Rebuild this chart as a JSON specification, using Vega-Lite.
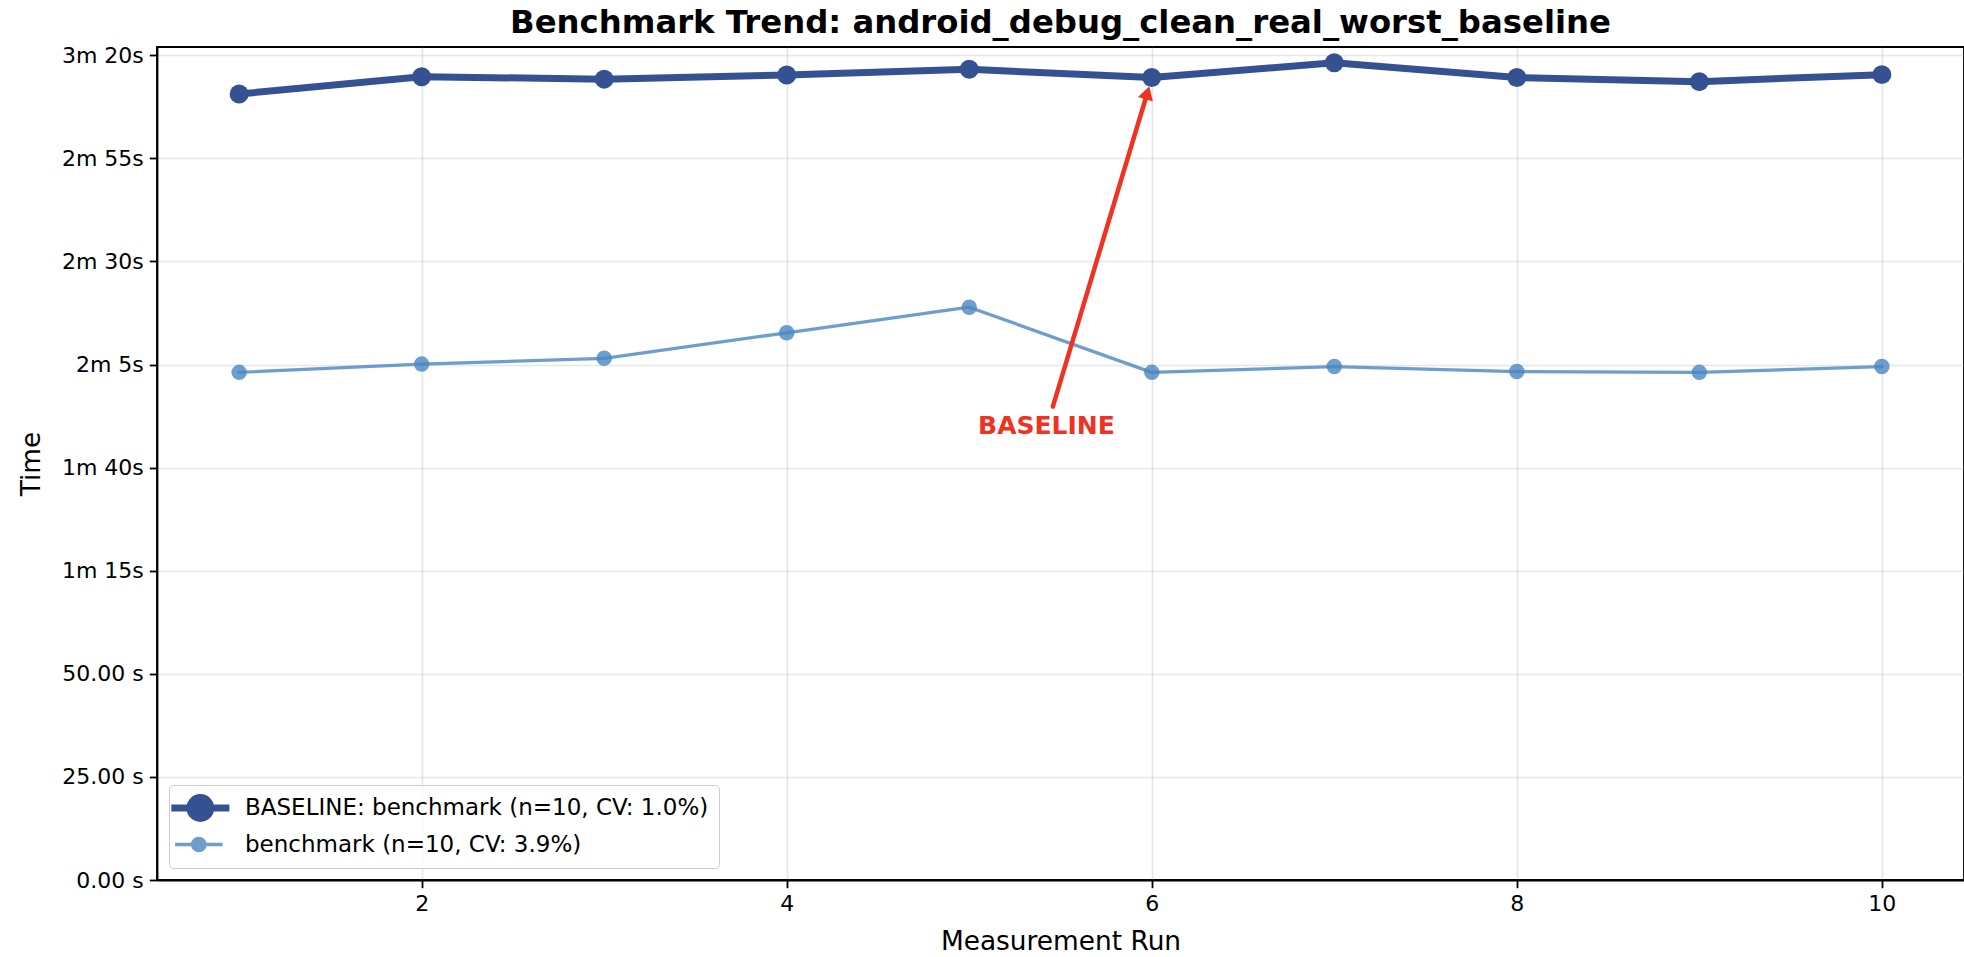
{
  "$schema": "https://vega.github.io/schema/vega-lite/v6.json",
  "autosize": {"type": "none"},
  "padding": {"left": 157, "top": 47, "right": 0, "bottom": 77},
  "width": 1807,
  "height": 833,
  "background": "white",
  "config": {
    "font": "DejaVu Sans",
    "view": {"stroke": "black", "strokeWidth": 1.8},
    "axis": {
      "labelFont": "DejaVu Sans", "labelFontSize": 22, "labelColor": "black",
      "titleFont": "DejaVu Sans", "titleFontSize": 26.4, "titleFontWeight": "normal", "titleColor": "black",
      "domainColor": "black", "domainWidth": 1.8, "tickColor": "black", "tickWidth": 1.8, "tickSize": 7.7,
      "labelPadding": 6, "gridColor": "#b0b0b0", "gridOpacity": 0.3, "gridWidth": 1.7
    }
  },
  "title": {
    "text": "Benchmark Trend: android_debug_clean_real_worst_baseline",
    "font": "DejaVu Sans", "fontSize": 32.3, "fontWeight": "bold", "color": "black",
    "anchor": "middle", "baseline": "bottom", "offset": -28, "frame": "group"
  },
  "datasets": {
    "runs": [
      {"run": 1, "seconds": 190.6, "series": "BASELINE: benchmark (n=10, CV: 1.0%)"},
      {"run": 2, "seconds": 194.8, "series": "BASELINE: benchmark (n=10, CV: 1.0%)"},
      {"run": 3, "seconds": 194.2, "series": "BASELINE: benchmark (n=10, CV: 1.0%)"},
      {"run": 4, "seconds": 195.2, "series": "BASELINE: benchmark (n=10, CV: 1.0%)"},
      {"run": 5, "seconds": 196.6, "series": "BASELINE: benchmark (n=10, CV: 1.0%)"},
      {"run": 6, "seconds": 194.6, "series": "BASELINE: benchmark (n=10, CV: 1.0%)"},
      {"run": 7, "seconds": 198.2, "series": "BASELINE: benchmark (n=10, CV: 1.0%)"},
      {"run": 8, "seconds": 194.6, "series": "BASELINE: benchmark (n=10, CV: 1.0%)"},
      {"run": 9, "seconds": 193.6, "series": "BASELINE: benchmark (n=10, CV: 1.0%)"},
      {"run": 10, "seconds": 195.3, "series": "BASELINE: benchmark (n=10, CV: 1.0%)"},
      {"run": 1, "seconds": 123.1, "series": "benchmark (n=10, CV: 3.9%)"},
      {"run": 2, "seconds": 125.1, "series": "benchmark (n=10, CV: 3.9%)"},
      {"run": 3, "seconds": 126.5, "series": "benchmark (n=10, CV: 3.9%)"},
      {"run": 4, "seconds": 132.7, "series": "benchmark (n=10, CV: 3.9%)"},
      {"run": 5, "seconds": 138.9, "series": "benchmark (n=10, CV: 3.9%)"},
      {"run": 6, "seconds": 123.1, "series": "benchmark (n=10, CV: 3.9%)"},
      {"run": 7, "seconds": 124.5, "series": "benchmark (n=10, CV: 3.9%)"},
      {"run": 8, "seconds": 123.3, "series": "benchmark (n=10, CV: 3.9%)"},
      {"run": 9, "seconds": 123.1, "series": "benchmark (n=10, CV: 3.9%)"},
      {"run": 10, "seconds": 124.5, "series": "benchmark (n=10, CV: 3.9%)"}
    ],
    "note": [
      {"label": "BASELINE", "tx": 5.423, "ty": 110.1, "x0": 5.458, "y0": 114.8, "x1": 5.976, "y1": 190.9}
    ]
  },
  "layer": [
    {
      "data": {"name": "runs"},
      "mark": {"type": "line", "strokeCap": "round", "strokeJoin": "round"},
      "encoding": {
        "x": {"field": "run", "type": "quantitative",
              "scale": {"domain": [0.55, 10.45], "nice": false, "zero": false},
              "axis": {"values": [2, 4, 6, 8, 10], "format": "d", "title": "Measurement Run", "titlePadding": 14, "grid": true}},
        "y": {"field": "seconds", "type": "quantitative",
              "scale": {"domain": [0, 202.0], "nice": false, "zero": false},
              "axis": {"values": [0, 25, 50, 75, 100, 125, 150, 175, 200], "title": "Time", "titlePadding": 16, "grid": true,
                       "labelExpr": "datum.value >= 60 ? floor(datum.value/60) + 'm ' + (datum.value % 60) + 's' : format(datum.value, '.2f') + ' s'"}},
        "color": {"field": "series", "type": "nominal",
                  "scale": {"domain": ["BASELINE: benchmark (n=10, CV: 1.0%)", "benchmark (n=10, CV: 3.9%)"], "range": ["#345291", "#4a86c0"]},
                  "legend": {
                    "title": null, "orient": "bottom-left", "offset": 12,
                    "labelFont": "DejaVu Sans", "labelFontSize": 23, "labelColor": "black",
                    "symbolSize": 400, "labelOffset": 40, "rowPadding": -5, "padding": 10,
                    "strokeColor": "#cccccc", "fillColor": "rgba(255,255,255,0.8)", "cornerRadius": 4,
                    "labelLimit": 1000,
                    "encode": {"symbols": {"update": {
                      "size": {"value": 400},
                      "shape": {"signal": "datum.value === 'benchmark (n=10, CV: 3.9%)' ? 'M-2.18,0H3.94M1.68,0A0.8,0.8,0,1,1,0.08,0A0.8,0.8,0,1,1,1.68,0Z' : 'M-2.18,0H3.94M1.98,0A1.1,1.1,0,1,1,-0.22,0A1.1,1.1,0,1,1,1.98,0Z'"},
                      "strokeWidth": {"signal": "datum.value === 'benchmark (n=10, CV: 3.9%)' ? 3.3 : 7"},
                      "fill": {"signal": "datum.value === 'benchmark (n=10, CV: 3.9%)' ? '#4a86c0' : '#345291'"},
                      "stroke": {"signal": "datum.value === 'benchmark (n=10, CV: 3.9%)' ? '#4a86c0' : '#345291'"},
                      "opacity": {"signal": "datum.value === 'benchmark (n=10, CV: 3.9%)' ? 0.8 : 1"},
                      "fillOpacity": {"value": 1},
                      "strokeOpacity": {"value": 1}
                    }}}
                  }},
        "strokeWidth": {"field": "series", "type": "nominal",
                        "scale": {"domain": ["BASELINE: benchmark (n=10, CV: 1.0%)", "benchmark (n=10, CV: 3.9%)"], "range": [7, 3.3]}, "legend": null},
        "opacity": {"field": "series", "type": "nominal",
                    "scale": {"domain": ["BASELINE: benchmark (n=10, CV: 1.0%)", "benchmark (n=10, CV: 3.9%)"], "range": [1, 0.8]}, "legend": null}
      }
    },
    {
      "data": {"name": "runs"},
      "mark": {"type": "point", "filled": true, "shape": "circle"},
      "encoding": {
        "x": {"field": "run", "type": "quantitative"},
        "y": {"field": "seconds", "type": "quantitative"},
        "color": {"field": "series", "type": "nominal"},
        "size": {"field": "series", "type": "nominal",
                 "scale": {"domain": ["BASELINE: benchmark (n=10, CV: 1.0%)", "benchmark (n=10, CV: 3.9%)"], "range": [360, 240]}, "legend": null},
        "opacity": {"field": "series", "type": "nominal", "legend": null}
      }
    },
    {
      "data": {"name": "note"},
      "mark": {"type": "rule", "color": "#ee3322", "strokeWidth": 4.5, "strokeCap": "round"},
      "encoding": {
        "x": {"field": "x0", "type": "quantitative"},
        "y": {"field": "y0", "type": "quantitative"},
        "x2": {"field": "x1"},
        "y2": {"field": "y1"}
      }
    },
    {
      "data": {"name": "note"},
      "mark": {"type": "point", "shape": "triangle-up", "filled": true, "color": "#ee3322", "opacity": 1, "size": 240, "angle": 16.8},
      "encoding": {
        "x": {"field": "x1", "type": "quantitative"},
        "y": {"field": "y1", "type": "quantitative"}
      }
    },
    {
      "data": {"name": "note"},
      "mark": {"type": "text", "color": "#ee3322", "font": "DejaVu Sans", "fontSize": 25, "fontWeight": "bold", "align": "center", "baseline": "middle"},
      "encoding": {
        "x": {"field": "tx", "type": "quantitative"},
        "y": {"field": "ty", "type": "quantitative"},
        "text": {"field": "label"}
      }
    }
  ]
}
